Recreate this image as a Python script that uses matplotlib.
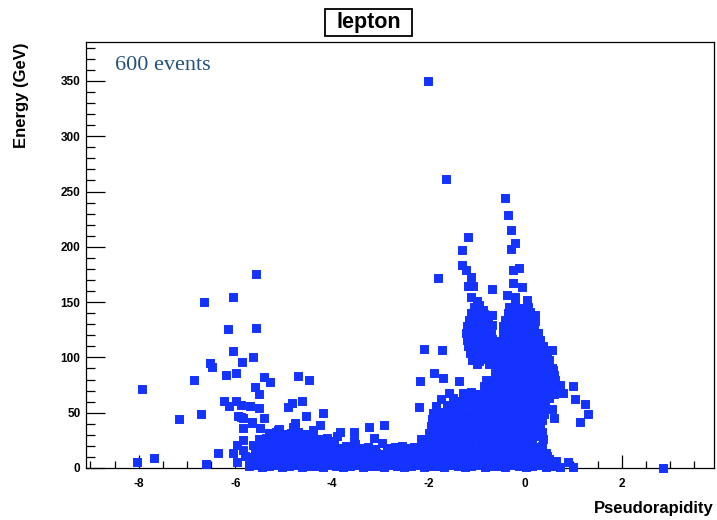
import matplotlib
matplotlib.use("Agg")
import matplotlib.pyplot as plt
from matplotlib.patches import Rectangle
from matplotlib.ticker import MultipleLocator
import numpy as np

# ---- data: (pseudorapidity, energy in GeV) per lepton ----
high_tail = [
    (-2.02, 350), (-1.64, 261), (-0.41, 244), (-0.35, 229), (-0.29, 215),
    (-0.21, 203), (-0.29, 198), (-1.18, 209), (-1.30, 197), (-1.30, 184),
    (-1.22, 179), (-1.80, 172), (-1.12, 173), (-1.18, 165), (-1.08, 165),
    (-0.68, 162), (-0.25, 179), (-0.12, 181), (-0.25, 167), (-0.06, 164),
    (-0.37, 156), (-0.21, 155), (0.04, 152), (-1.12, 155), (-0.99, 151),
    (-0.87, 143), (-0.68, 138), (0.21, 138), (-0.27, 143),
]

forward_cluster = [
    (-5.57, 175), (-6.05, 155), (-6.65, 150), (-6.15, 126), (-5.57, 127),
    (-6.05, 106), (-5.63, 100), (-6.52, 95), (-6.48, 91), (-5.86, 96),
    (-6.85, 80), (-6.19, 84), (-5.98, 86), (-5.40, 82), (-5.28, 78),
    (-4.70, 83), (-4.47, 80), (-5.59, 73), (-5.51, 67), (-7.93, 71),
    (-6.23, 61), (-5.98, 61), (-6.13, 56), (-5.88, 57), (-5.69, 56),
    (-5.51, 54), (-4.91, 55), (-4.82, 59), (-4.62, 61), (-7.16, 44),
    (-6.71, 49), (-5.94, 47), (-5.84, 45), (-5.40, 45), (-4.53, 47),
    (-4.18, 50), (-5.84, 36), (-5.65, 41), (-5.49, 36), (-5.09, 35),
    (-4.80, 37), (-4.76, 41), (-4.24, 39), (-4.39, 34), (-5.84, 25),
    (-5.96, 21), (-5.63, 21), (-6.36, 14), (-6.05, 14), (-7.68, 9),
    (-8.03, 5), (-6.60, 4), (-5.96, 5), (-5.42, 10), (-5.63, 10),
    (-5.88, 46), (-5.65, 42), (-5.11, 34), (-5.80, 11), (-5.72, 3),
    (-5.85, 16),
]

mid_scatter = [
    (-3.83, 33), (-3.54, 33), (-3.23, 37), (-2.92, 39), (-3.13, 27),
    (-3.52, 22), (-2.97, 23), (-3.90, 29), (-2.09, 108), (-1.72, 107),
    (-1.88, 86), (-2.17, 79), (-1.70, 81), (-1.37, 79), (-1.57, 68),
    (-2.19, 55), (-2.30, 19), (-0.99, 94), (-0.74, 94),
]

right_scatter = [
    (0.56, 107), (0.58, 89), (0.72, 75), (0.99, 74), (0.79, 68),
    (1.04, 62), (1.24, 58), (1.30, 49), (1.14, 42), (0.39, 62),
    (0.56, 53), (0.60, 45), (0.29, 29), (0.43, 14), (0.46, 11),
    (0.89, 5), (0.99, 1), (2.86, 0),
]

low_band = [
    (-5.72, 2), (-5.58, 3), (-5.45, 1), (-5.31, 2), (-5.17, 3), (-5.03, 1),
    (-4.89, 2), (-4.75, 3), (-4.61, 1), (-4.47, 2), (-4.33, 2), (-4.19, 1),
    (-4.05, 3), (-3.91, 2), (-3.77, 1), (-3.63, 2), (-3.49, 3), (-3.35, 1),
    (-3.21, 2), (-3.07, 2), (-2.93, 1), (-2.79, 3), (-2.65, 2), (-2.51, 1),
    (-2.37, 2), (-2.23, 3), (-2.09, 1), (-1.95, 2), (-1.81, 2), (-1.67, 1),
    (-1.53, 3), (-1.39, 2), (-1.25, 1), (-1.11, 2), (-0.97, 3), (-0.83, 1),
    (-0.69, 2), (-0.55, 2), (-0.41, 1), (-0.27, 3), (-0.13, 2), (0.01, 1),
    (0.15, 2), (0.29, 3), (0.43, 1), (0.57, 2), (0.72, 1),
    (-5.66, 8), (-5.52, 7), (-5.38, 9), (-5.24, 8), (-5.10, 7), (-4.96, 9),
    (-4.82, 8), (-4.68, 7), (-4.54, 9), (-4.40, 8), (-4.26, 7), (-4.12, 9),
    (-3.98, 8), (-3.84, 7), (-3.70, 9), (-3.56, 8), (-3.42, 7), (-3.28, 9),
    (-3.14, 8), (-3.00, 7), (-2.86, 9), (-2.72, 8), (-2.58, 7), (-2.44, 9),
    (-2.30, 8), (-2.16, 7), (-2.02, 9), (-1.88, 8), (-1.74, 7), (-1.60, 9),
    (-1.46, 8), (-1.32, 7), (-1.18, 9), (-1.04, 8), (-0.90, 7), (-0.76, 9),
    (-0.62, 8), (-0.48, 7), (-0.34, 9), (-0.20, 8), (-0.06, 7), (0.08, 9),
    (0.22, 8), (0.36, 7), (0.50, 8), (0.64, 6),
    (-5.60, 14), (-5.46, 13), (-5.32, 15), (-5.18, 14), (-5.04, 13),
    (-4.90, 15), (-4.76, 14), (-4.62, 13), (-4.48, 15), (-4.34, 14),
    (-4.20, 13), (-4.06, 15), (-3.92, 14), (-3.78, 13), (-3.64, 15),
    (-3.50, 14), (-3.36, 13), (-3.22, 15), (-3.08, 14), (-2.94, 13),
    (-2.80, 15), (-2.66, 14), (-2.52, 13), (-2.38, 15), (-2.24, 14),
    (-2.10, 13), (-1.96, 15), (-1.82, 14), (-1.68, 13), (-1.54, 15),
    (-1.40, 14), (-1.26, 13), (-1.12, 15), (-0.98, 14), (-0.84, 13),
    (-0.70, 15), (-0.56, 14), (-0.42, 13), (-0.28, 15), (-0.14, 14),
    (0.00, 13), (0.14, 15), (0.28, 14),
    (-5.55, 20), (-5.41, 21), (-5.27, 19), (-5.13, 20), (-4.99, 21),
    (-4.85, 19), (-4.71, 20), (-4.57, 21), (-4.43, 19), (-4.29, 20),
    (-4.15, 19), (-4.00, 21), (-3.86, 18), (-3.70, 20), (-3.40, 18),
    (-3.25, 19), (-3.10, 17), (-2.85, 18), (-2.70, 19), (-2.55, 20),
    (-2.42, 18), (-2.16, 20), (-2.02, 21), (-1.88, 19), (-1.74, 20),
    (-1.60, 21), (-1.46, 19), (-1.32, 20), (-1.18, 21), (-1.04, 19),
    (-0.90, 20), (-0.76, 21), (-0.62, 19), (-0.48, 20), (-0.34, 21),
    (-0.20, 19), (-0.06, 20), (0.08, 21), (0.22, 19), (0.34, 20),
    (-5.50, 26), (-5.36, 27), (-5.22, 25), (-5.08, 26), (-4.94, 27),
    (-4.80, 25), (-4.66, 26), (-4.52, 27), (-4.38, 25), (-4.24, 26),
    (-4.10, 27), (-3.96, 24), (-3.55, 24),
    (-5.30, 32), (-5.15, 33), (-5.00, 31), (-4.85, 32), (-4.70, 33),
    (-4.55, 31), (-4.42, 30),
]

central_core = [
    (-1.05, 146), (-0.95, 147), (-0.33, 146), (-0.20, 147), (-0.05, 145), (0.06, 146),
    (-1.12, 140), (-0.98, 141), (-0.86, 139), (-0.36, 140), (-0.24, 141),
    (-0.12, 139), (0.00, 140), (0.10, 141),
    (-1.16, 134), (-1.02, 135), (-0.90, 133), (-0.77, 134), (-0.42, 134),
    (-0.30, 135), (-0.17, 133), (-0.04, 134), (0.08, 135), (0.20, 133),
    (-1.20, 128), (-1.07, 129), (-0.94, 127), (-0.80, 128), (-0.68, 129),
    (-0.45, 128), (-0.32, 127), (-0.20, 129), (-0.07, 128), (0.06, 127), (0.18, 129),
    (-1.22, 122), (-1.10, 121), (-0.96, 123), (-0.83, 122), (-0.70, 121),
    (-0.46, 122), (-0.34, 123), (-0.21, 121), (-0.09, 122), (0.04, 123),
    (0.16, 121), (0.26, 122),
    (-1.20, 116), (-1.07, 117), (-0.94, 115), (-0.81, 116), (-0.68, 117),
    (-0.56, 115), (-0.44, 116), (-0.31, 117), (-0.18, 115), (-0.05, 116),
    (0.08, 117), (0.20, 115), (0.30, 116),
    (-1.18, 110), (-1.05, 111), (-0.90, 109), (-0.78, 110), (-0.64, 111),
    (-0.52, 109), (-0.39, 110), (-0.26, 111), (-0.13, 109), (0.00, 110),
    (0.13, 111), (0.26, 109), (0.38, 110),
    (-1.15, 104), (-0.98, 103), (-0.85, 105), (-0.72, 104), (-0.59, 103),
    (-0.46, 105), (-0.33, 104), (-0.20, 103), (-0.07, 105), (0.06, 104),
    (0.19, 103), (0.32, 105), (0.45, 104),
    (-1.10, 98), (-0.95, 97), (-0.80, 99), (-0.66, 98), (-0.53, 97),
    (-0.40, 99), (-0.27, 98), (-0.14, 97), (-0.01, 99), (0.12, 98),
    (0.25, 97), (0.38, 99), (0.50, 98),
    (-0.58, 92), (-0.45, 91), (-0.32, 93), (-0.19, 92), (-0.06, 91),
    (0.07, 93), (0.20, 92), (0.33, 91), (0.46, 93), (0.56, 90),
    (-0.62, 86), (-0.49, 85), (-0.36, 87), (-0.23, 86), (-0.10, 85),
    (0.03, 87), (0.16, 86), (0.29, 85), (0.42, 87), (0.55, 86), (0.60, 84),
    (-0.80, 80), (-0.66, 79), (-0.53, 81), (-0.40, 80), (-0.27, 79),
    (-0.14, 81), (-0.01, 80), (0.12, 79), (0.25, 81), (0.38, 80),
    (0.51, 79), (0.62, 80),
    (-0.86, 74), (-0.72, 73), (-0.58, 75), (-0.45, 74), (-0.32, 73),
    (-0.19, 75), (-0.06, 74), (0.07, 73), (0.20, 75), (0.33, 74),
    (0.46, 73), (0.60, 75),
    (-1.28, 68), (-1.12, 69), (-0.98, 67), (-0.84, 68), (-0.70, 69),
    (-0.57, 67), (-0.44, 68), (-0.31, 69), (-0.18, 67), (-0.05, 68),
    (0.08, 69), (0.21, 67), (0.34, 68), (0.47, 69), (0.60, 67),
    (-1.75, 62), (-1.50, 63), (-1.35, 61), (-1.20, 62), (-1.05, 63),
    (-0.91, 61), (-0.78, 62), (-0.65, 63), (-0.52, 61), (-0.39, 62),
    (-0.26, 63), (-0.13, 61), (0.00, 62), (0.13, 63), (0.26, 61), (0.50, 63),
    (-1.85, 56), (-1.62, 57), (-1.45, 55), (-1.30, 56), (-1.15, 57),
    (-1.00, 55), (-0.87, 56), (-0.74, 57), (-0.61, 55), (-0.48, 56),
    (-0.35, 57), (-0.22, 55), (-0.09, 56), (0.04, 57), (0.17, 55),
    (0.30, 56), (0.42, 57),
    (-1.90, 50), (-1.72, 51), (-1.58, 49), (-1.44, 50), (-1.30, 51),
    (-1.16, 49), (-1.02, 50), (-0.89, 51), (-0.76, 49), (-0.63, 50),
    (-0.50, 51), (-0.37, 49), (-0.24, 50), (-0.11, 51), (0.02, 49),
    (0.15, 50), (0.28, 51), (0.40, 49),
    (-1.92, 44), (-1.78, 45), (-1.64, 43), (-1.50, 44), (-1.36, 45),
    (-1.22, 43), (-1.08, 44), (-0.95, 45), (-0.82, 43), (-0.69, 44),
    (-0.56, 45), (-0.43, 43), (-0.30, 44), (-0.17, 45), (-0.04, 43),
    (0.09, 44), (0.22, 45), (0.34, 43),
    (-1.95, 38), (-1.81, 39), (-1.67, 37), (-1.53, 38), (-1.39, 39),
    (-1.25, 37), (-1.11, 38), (-0.98, 39), (-0.85, 37), (-0.72, 38),
    (-0.59, 39), (-0.46, 37), (-0.33, 38), (-0.20, 39), (-0.07, 37),
    (0.06, 38), (0.19, 39), (0.30, 37),
    (-1.98, 32), (-1.86, 33), (-1.74, 31), (-1.60, 32), (-1.46, 33),
    (-1.32, 31), (-1.18, 32), (-1.05, 33), (-0.92, 31), (-0.79, 32),
    (-0.66, 33), (-0.53, 31), (-0.40, 32), (-0.27, 33), (-0.14, 31),
    (-0.01, 32), (0.12, 33), (0.25, 31), (0.34, 33),
    (-2.15, 26), (-2.00, 25), (-1.86, 27), (-1.72, 26), (-1.58, 25),
    (-1.44, 27), (-1.30, 26), (-1.16, 25), (-1.03, 27), (-0.90, 26),
    (-0.77, 25), (-0.64, 27), (-0.51, 26), (-0.38, 25), (-0.25, 27),
    (-0.12, 26), (0.01, 25), (0.14, 27), (0.38, 26),
]

groups = [high_tail, forward_cluster, mid_scatter, right_scatter, low_band, central_core]
eta = np.array([p[0] for g in groups for p in g])
energy = np.array([p[1] for g in groups for p in g])

x_ticks = [-8, -6, -4, -2, 0, 2]
y_ticks = [0, 50, 100, 150, 200, 250, 300, 350]

# ---- figure ----
W, H = 717, 520
fig = plt.figure(figsize=(W / 100, H / 100), dpi=100)
fig.patch.set_facecolor("white")
ax = fig.add_axes([86 / W, 52 / H, (714 - 86) / W, (468 - 42) / H])

marker_blue = "#1433ff"
ax.scatter(eta, energy, marker="s", s=29, color=marker_blue,
           edgecolors=marker_blue, linewidths=0.7, zorder=3, clip_on=False)

ax.set_xlim(-9.09, 3.91)
ax.set_ylim(0, 385.2)

for s in ax.spines.values():
    s.set_linewidth(0.9)
    s.set_color("black")

ax.set_xticks(x_ticks)
ax.set_yticks(y_ticks)
ax.xaxis.set_minor_locator(MultipleLocator(0.5))
ax.yaxis.set_minor_locator(MultipleLocator(10))
ax.tick_params(axis="x", which="major", direction="in", length=9.4, width=0.9, pad=7)
ax.tick_params(axis="x", which="minor", direction="in", length=4.7, width=0.9)
ax.tick_params(axis="y", which="major", direction="in", length=13.5, width=0.9, pad=4)
ax.tick_params(axis="y", which="minor", direction="in", length=6.8, width=0.9)
ax.tick_params(top=False, right=False, which="both")

tick_font = dict(family="Liberation Sans", weight="bold", size=8.5)
ax.set_xticklabels([str(v) for v in x_ticks], fontdict=tick_font)
ax.set_yticklabels([str(v) for v in y_ticks], fontdict=tick_font)

fig.text(714 / W, 1 - 508 / H, "Pseudorapidity", ha="right", va="center",
         family="Liberation Sans", weight="bold", fontsize=12)
fig.text(22 / W, 1 - 42 / H, "Energy (GeV)", ha="center", va="top", rotation=90,
         family="Liberation Sans", weight="bold", fontsize=12)

# title in a framed box
fig.add_artist(Rectangle((325 / W, 1 - 36 / H), 87 / W, 27 / H,
                         transform=fig.transFigure, facecolor="white",
                         edgecolor="black", linewidth=1.3))
fig.text(368.5 / W, 1 - 22.5 / H, "lepton", ha="center", va="center",
         family="Liberation Sans", weight="bold", fontsize=15.5)

fig.text(115 / W, 1 - 66 / H, "600 events", ha="left", va="center",
         family="Liberation Serif", fontsize=16, color="#23527c")

fig.savefig("out.png", dpi=100, facecolor="white")
